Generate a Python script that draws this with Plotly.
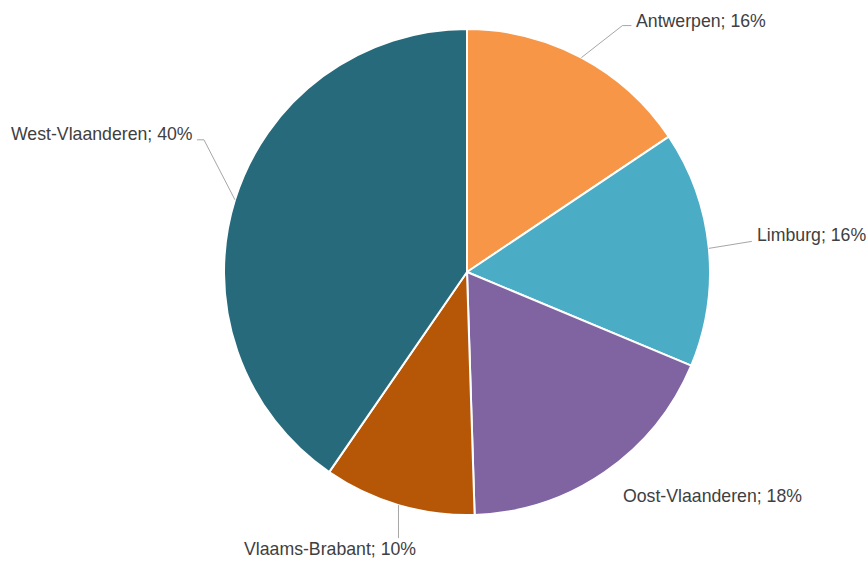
import math
import plotly.graph_objects as go

# ---- data ----
provinces = ["Antwerpen", "Limburg", "Oost-Vlaanderen", "Vlaams-Brabant", "West-Vlaanderen"]
shares = [15.6, 15.7, 18.2, 10.1, 40.4]
colors = ["#F79646", "#4BACC6", "#8064A2", "#B65708", "#276A7C"]

# ---- layout config (pixels) ----
W, H = 868, 561
CX, CY, R = 467, 272, 243
# per-label: elbow offset from slice edge point (dx, dy), horizontal run, text offset from line end, anchor, draw line
label_cfg = {
    "Antwerpen":       dict(elbow=(41, -32), run=9,  text=(3, -5),   xanchor="left",   line=True),
    "Limburg":         dict(elbow=(43, -7),  run=0,  text=(3, -6),   xanchor="left",   line=True),
    "Oost-Vlaanderen": dict(elbow=(0, 0),    run=0,  text=(16, 24),  xanchor="left",   line=False),
    "Vlaams-Brabant":  dict(elbow=(0, 33),   run=0,  text=(-68, 11), xanchor="center", line=True),
    "West-Vlaanderen": dict(elbow=(-31, -60), run=-7, text=(-2, -5.5), xanchor="right", line=True),
}

def px(x):
    return x / W

def py(y):
    return 1 - y / H

fig = go.Figure(go.Pie(
    labels=provinces,
    values=shares,
    sort=False,
    direction="clockwise",
    rotation=0,
    textinfo="none",
    hoverinfo="label+percent",
    marker=dict(colors=colors, line=dict(color="white", width=2)),
    domain=dict(x=[px(CX - R), px(CX + R)], y=[py(CY + R), py(CY - R)]),
    showlegend=False,
))

total = sum(shares)
cum = 0.0
annotations = []
shapes = []
for name, v in zip(provinces, shares):
    mid = 2 * math.pi * (cum + v / 2) / total
    cum += v
    ex = CX + R * math.sin(mid)
    ey = CY - R * math.cos(mid)
    cfg = label_cfg[name]
    bx, by = ex + cfg["elbow"][0], ey + cfg["elbow"][1]
    hx, hy = bx + cfg["run"], by
    if cfg["line"]:
        shapes.append(dict(type="line", xref="paper", yref="paper",
                           x0=px(ex), y0=py(ey), x1=px(bx), y1=py(by),
                           line=dict(color="#A6A6A6", width=1)))
        if cfg["run"]:
            shapes.append(dict(type="line", xref="paper", yref="paper",
                               x0=px(bx), y0=py(by), x1=px(hx), y1=py(hy),
                               line=dict(color="#A6A6A6", width=1)))
    tx, ty = hx + cfg["text"][0], hy + cfg["text"][1]
    pct = round(100 * v / total)
    annotations.append(dict(
        xref="paper", yref="paper", x=px(tx), y=py(ty),
        xanchor=cfg["xanchor"], yanchor="middle",
        text=f"{name}; {pct}%", showarrow=False,
        font=dict(family="Liberation Sans, Arial, sans-serif", size=17.7, color="#404040"),
    ))

fig.update_layout(
    width=W, height=H,
    margin=dict(l=0, r=0, t=0, b=0),
    paper_bgcolor="white",
    plot_bgcolor="white",
    annotations=annotations,
    shapes=shapes,
)

fig.write_html(
    "out.html",
    config={"displayModeBar": False},
    post_script="document.body.style.margin='0';document.body.style.padding='0';document.body.style.overflow='hidden';",
)
